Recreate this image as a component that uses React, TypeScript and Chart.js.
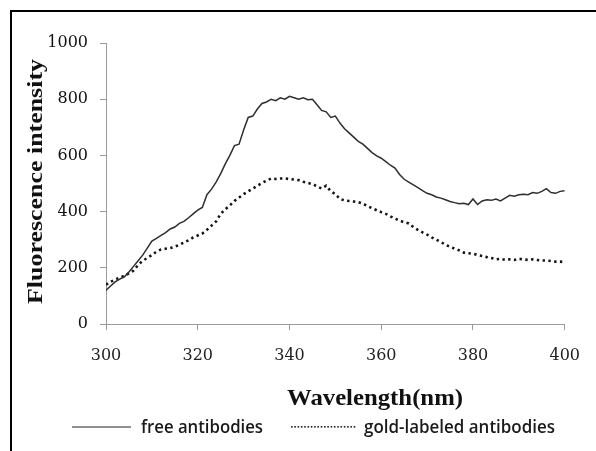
import React, { useEffect, useRef } from "react";
import { Chart, registerables } from "chart.js";

Chart.register(...registerables);

const wavelengths: number[] = [
  300, 301, 302, 303, 304, 305, 306, 307, 308, 309, 310, 311, 312, 313, 314, 315, 316, 317, 318, 319,
  320, 321, 322, 323, 324, 325, 326, 327, 328, 329, 330, 331, 332, 333, 334, 335, 336, 337, 338, 339,
  340, 341, 342, 343, 344, 345, 346, 347, 348, 349, 350, 351, 352, 353, 354, 355, 356, 357, 358, 359,
  360, 361, 362, 363, 364, 365, 366, 367, 368, 369, 370, 371, 372, 373, 374, 375, 376, 377, 378, 379,
  380, 381, 382, 383, 384, 385, 386, 387, 388, 389, 390, 391, 392, 393, 394, 395, 396, 397, 398, 399,
  400,
];

const freeAntibodies: number[] = [
  120, 135, 150, 160, 168, 185, 205, 225, 245, 270, 295, 305, 315, 325, 338, 345, 358, 365, 378, 392,
  405, 415, 460, 480, 505, 535, 570, 600, 635, 640, 690, 735, 740, 765, 785, 790, 800, 795, 805, 800,
  810, 805, 800, 805, 798, 800, 780, 760, 755, 735, 740, 715, 695, 680, 665, 650, 640, 625, 610, 598,
  590, 578, 565, 555, 532, 515, 505, 495, 485, 475, 465, 460, 452, 448, 442, 436, 432, 428, 430, 425,
  445, 425, 438, 442, 440, 445, 438, 448, 458, 455, 460, 462, 460, 468, 465, 472, 482, 468, 465, 472,
  474,
];

const goldLabeled: number[] = [
  140, 150, 158, 165, 172, 180, 190, 210, 225, 235, 245, 258, 265, 268, 270, 275, 282, 290, 298, 308,
  315, 322, 335, 350, 365, 392, 408, 422, 438, 450, 462, 472, 482, 492, 502, 510, 518, 516, 518, 518,
  516, 514, 512, 506, 502, 498, 490, 482, 492, 472, 462, 445, 440, 438, 436, 434, 428, 420, 412, 405,
  398, 392, 383, 375, 368, 362, 358, 345, 335, 326, 318, 308, 300, 292, 282, 275, 268, 262, 254, 252,
  250, 246, 242, 238, 235, 230, 232, 228, 230, 228, 232, 230, 228, 230, 228, 226, 226, 224, 222, 222,
  220,
];

const xTicks: number[] = [300, 320, 340, 360, 380, 400];
const yTicks: number[] = [0, 200, 400, 600, 800, 1000];
const seriesNames: string[] = ["free antibodies", "gold-labeled antibodies"];
const xTitle = "Wavelength(nm)";
const yTitle = "Fluorescence intensity";

function fitText(
  ctx: CanvasRenderingContext2D,
  text: string,
  font: string,
  x: number,
  y: number,
  width: number,
  rotate: boolean
) {
  ctx.save();
  ctx.font = font;
  const w = ctx.measureText(text).width;
  const sx = width / w;
  ctx.translate(x, y);
  if (rotate) ctx.rotate(-Math.PI / 2);
  ctx.scale(sx, 1);
  ctx.textAlign = "left";
  ctx.textBaseline = "alphabetic";
  ctx.fillText(text, 0, 0);
  ctx.restore();
}

const decorPlugin = {
  id: "decor",
  afterDraw(chart: any) {
    const ctx: CanvasRenderingContext2D = chart.ctx;
    ctx.save();
    ctx.fillStyle = "#000";
    ctx.fillRect(10, 10, 2, 441);
    ctx.fillRect(10, 10, 586, 2);
    ctx.fillStyle = "#111";
    fitText(ctx, xTitle, "bold 24px 'Liberation Serif'", 287, 405, 176, false);
    fitText(ctx, yTitle, "bold 22px 'Liberation Serif'", 42, 304, 245, true);
    ctx.strokeStyle = "#222";
    ctx.lineWidth = 1.2;
    ctx.beginPath();
    ctx.moveTo(72, 427);
    ctx.lineTo(131, 427);
    ctx.stroke();
    ctx.fillStyle = "#222";
    for (let x = 291; x < 357; x += 3.3) {
      ctx.fillRect(x, 426, 1.6, 1.6);
    }
    ctx.fillStyle = "#1a1a1a";
    fitText(ctx, seriesNames[0], "600 18px 'Open Sans'", 141, 433, 122, false);
    fitText(ctx, seriesNames[1], "600 18px 'Open Sans'", 364, 433, 191, false);
    ctx.restore();
  },
};

const bgPlugin = {
  id: "bg",
  beforeDraw(chart: any) {
    const ctx = chart.ctx;
    ctx.save();
    ctx.fillStyle = "#fff";
    ctx.fillRect(0, 0, chart.width, chart.height);
    ctx.restore();
  },
};

export default function App() {
  const ref = useRef<HTMLCanvasElement | null>(null);
  useEffect(() => {
    if (!ref.current) return;
    const chart = new Chart(ref.current, {
      type: "line",
      data: {
        datasets: [
          {
            label: seriesNames[0],
            data: wavelengths.map((x, i) => ({ x, y: freeAntibodies[i] })),
            borderColor: "#2e2e2e",
            borderWidth: 1.5,
            pointRadius: 0,
            tension: 0,
            fill: false,
          },
          {
            label: seriesNames[1],
            data: wavelengths.map((x, i) => ({ x, y: goldLabeled[i] })),
            borderColor: "#151515",
            borderWidth: 2.6,
            borderDash: [2.4, 3.4],
            borderCapStyle: "butt",
            pointRadius: 0,
            tension: 0,
            fill: false,
          },
        ],
      },
      options: {
        animation: false,
        responsive: false,
        layout: { padding: { left: 0, top: 43, right: 29, bottom: 0 } },
        plugins: { legend: { display: false }, tooltip: { enabled: false } },
        scales: {
          x: {
            type: "linear",
            min: xTicks[0],
            max: xTicks[xTicks.length - 1],
            afterFit: (s: any) => {
              s.height = 127;
            },
            afterBuildTicks: (s: any) => {
              s.ticks = xTicks.map((v) => ({ value: v }));
            },
            ticks: {
              padding: 16,
              color: "#222",
              font: { family: "'DejaVu Serif'", size: 16 },
              maxRotation: 0,
              callback: (v: any) => String(v),
            },
            grid: {
              drawOnChartArea: false,
              tickLength: 6,
              color: "#9a9a9a",
            },
            border: { color: "#9a9a9a", width: 1 },
          },
          y: {
            min: yTicks[0],
            max: yTicks[yTicks.length - 1],
            afterFit: (s: any) => {
              s.width = 106;
            },
            afterBuildTicks: (s: any) => {
              s.ticks = yTicks.map((v) => ({ value: v }));
            },
            ticks: {
              padding: 12,
              color: "#111",
              font: { family: "'DejaVu Serif'", size: 16 },
              callback: (v: any) => String(v),
            },
            grid: {
              drawOnChartArea: false,
              tickLength: 6,
              color: "#9a9a9a",
            },
            border: { color: "#9a9a9a", width: 1 },
          },
        },
      },
      plugins: [bgPlugin, decorPlugin],
    });
    return () => chart.destroy();
  }, []);
  return (
    <div style={{ position: "fixed", left: 0, top: 0, width: 596, height: 451, background: "#fff" }}>
      <canvas ref={ref} width={596} height={451} />
    </div>
  );
}
